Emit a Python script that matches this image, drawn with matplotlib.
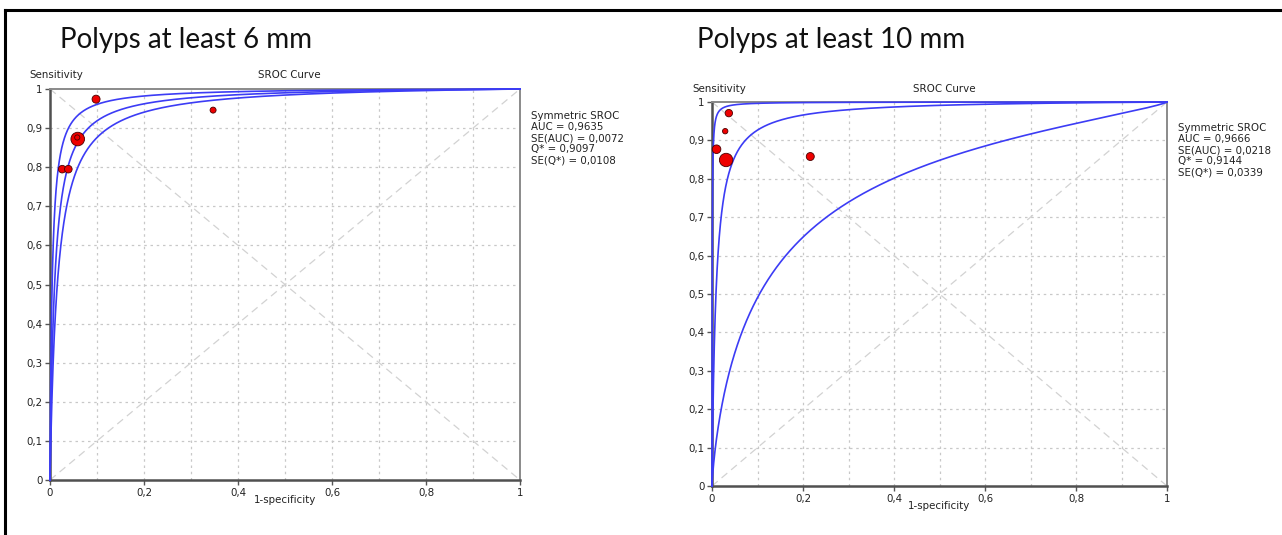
import numpy as np
import matplotlib
matplotlib.use('Agg')
import matplotlib.pyplot as plt
from matplotlib.lines import Line2D

# ---- data ----
titles = ['Polyps at least 6 mm', 'Polyps at least 10 mm']

# study points (1-specificity, sensitivity) and relative study weight
fpr_6 = [0.098, 0.347, 0.059, 0.058, 0.026, 0.039]
sens_6 = [0.974, 0.946, 0.872, 0.876, 0.795, 0.795]
weight_6 = [4.0, 3.0, 6.8, 2.6, 3.8, 3.8]

fpr_10 = [0.037, 0.029, 0.010, 0.031, 0.216]
sens_10 = [0.971, 0.924, 0.877, 0.849, 0.858]
weight_10 = [3.7, 2.7, 4.3, 6.7, 4.0]

# SROC curves as logit(sens) = a + b * logit(1-spec)  (upper, fitted, lower)
curve_a_6 = [np.log(220), np.log(101.5), np.log(63.5)]
curve_b_6 = [1.0, 1.0, 1.0]
curve_a_10 = [np.log(2600), np.log(114), 1.72]
curve_b_10 = [1.0, 1.0, 0.8]

stats_6 = ['Symmetric SROC', 'AUC = 0,9635', 'SE(AUC) = 0,0072',
           'Q* = 0,9097', 'SE(Q*) = 0,0108']
stats_10 = ['Symmetric SROC', 'AUC = 0,9666', 'SE(AUC) = 0,0218',
            'Q* = 0,9144', 'SE(Q*) = 0,0339']

x_ticks = [0, 0.2, 0.4, 0.6, 0.8, 1]
x_ticklabels = ['0', '0,2', '0,4', '0,6', '0,8', '1']
y_ticks = [0, 0.1, 0.2, 0.3, 0.4, 0.5, 0.6, 0.7, 0.8, 0.9, 1]
y_ticklabels = ['0', '0,1', '0,2', '0,3', '0,4', '0,5', '0,6', '0,7', '0,8', '0,9', '1']

W, H = 1282, 535
fig = plt.figure(figsize=(W / 100, H / 100), dpi=100)

FS = 7.4
small = dict(family='DejaVu Sans', fontsize=FS, color='#222222')


def draw_panel(rect, fpr, sens, weight, ca, cb, stats, stats_pos):
    ax = fig.add_axes(rect)
    ax.set_xlim(0, 1)
    ax.set_ylim(0, 1)

    # grid every 0.1, dotted
    for v in np.arange(0.1, 1.0, 0.1):
        ax.axvline(v, color='#c8c8c8', lw=0.9, ls=(0, (2, 3)), zorder=1)
        ax.axhline(v, color='#c8c8c8', lw=0.9, ls=(0, (2, 3)), zorder=1)
    # diagonals
    ax.plot([0, 1], [0, 1], color='#d2d2d2', lw=0.9, ls=(0, (6, 4)), zorder=1)
    ax.plot([0, 1], [1, 0], color='#d2d2d2', lw=0.9, ls=(0, (6, 4)), zorder=1)

    # SROC curves
    x = np.linspace(1e-6, 1 - 1e-6, 4001)
    for a, b in zip(ca, cb):
        lt = a + b * np.log(x / (1 - x))
        tpr = 1 / (1 + np.exp(-lt))
        ax.plot(np.r_[0, x, 1], np.r_[0, tpr, 1], color='#3c3cf5', lw=1.2,
                zorder=3, clip_on=False)

    # study points
    sizes = [(w * 2 * 72 / 100) ** 2 for w in weight]
    ax.scatter(fpr, sens, s=sizes, color='#ee0000', edgecolors='#4a0000',
               linewidths=0.6, zorder=4, clip_on=False)

    ax.set_xticks(x_ticks)
    ax.set_xticklabels(x_ticklabels)
    ax.set_yticks(y_ticks)
    ax.set_yticklabels(y_ticklabels)
    ax.tick_params(length=3.5, width=1, color='#555555', labelsize=FS,
                   labelcolor='#222222', pad=2)
    for lab in ax.get_xticklabels() + ax.get_yticklabels():
        lab.set_family('DejaVu Sans')

    for s in ['left', 'bottom']:
        ax.spines[s].set_color('#505050')
        ax.spines[s].set_linewidth(1.8)
    for s in ['top', 'right']:
        ax.spines[s].set_color('#8a8a8a')
        ax.spines[s].set_linewidth(1.4)

    ax.text(-0.043, 1.022, 'Sensitivity', transform=ax.transAxes,
            ha='left', va='bottom', **small)
    ax.text(0.51, 1.022, 'SROC Curve', transform=ax.transAxes,
            ha='center', va='bottom', **small)
    ax.text(0.5, -0.038, '1-specificity', transform=ax.transAxes,
            ha='center', va='top', **small)

    fig.text(stats_pos[0], stats_pos[1], '\n'.join(stats), ha='left', va='top',
             linespacing=1.13, **small)
    return ax


ax1 = draw_panel([50 / W, 1 - 480 / H, 470 / W, 391 / H],
                 fpr_6, sens_6, weight_6, curve_a_6, curve_b_6, stats_6,
                 (531 / W, 1 - 111 / H))
ax2 = draw_panel([712 / W, 1 - 486 / H, 455 / W, 384 / H],
                 fpr_10, sens_10, weight_10, curve_a_10, curve_b_10, stats_10,
                 (1178 / W, 1 - 123 / H))

fig.text(60 / W, 1 - 40 / H, titles[0], family='Lato', fontsize=20,
         ha='left', va='center', color='#111111')
fig.text(697 / W, 1 - 40 / H, titles[1], family='Lato', fontsize=20,
         ha='left', va='center', color='#111111')

# outer frame (top and left edges visible)
fig.add_artist(Line2D([5 / W, 5 / W], [0, 1 - 10 / H], transform=fig.transFigure,
                      color='black', lw=2.2))
fig.add_artist(Line2D([5 / W, 1], [1 - 10 / H, 1 - 10 / H], transform=fig.transFigure,
                      color='black', lw=2.2))

fig.savefig('out.png', dpi=100)
